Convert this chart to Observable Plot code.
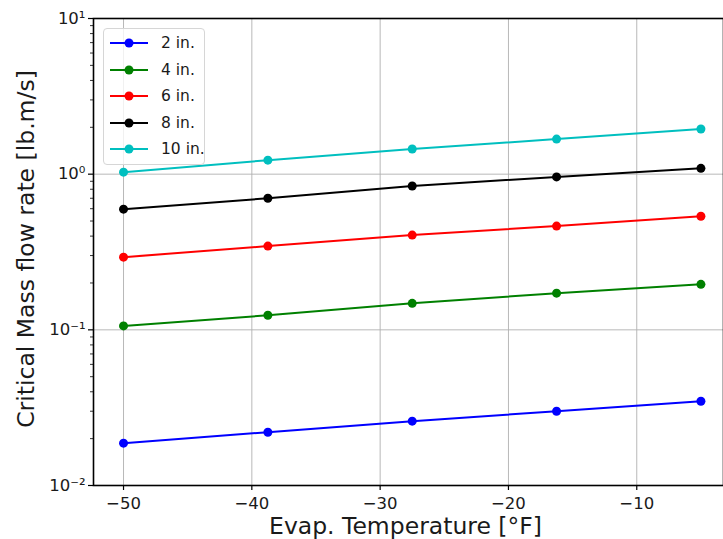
<!DOCTYPE html>
<html><head>
<meta charset="utf-8">
<script src="https://cdn.jsdelivr.net/npm/d3@7"></script>
<script src="https://cdn.jsdelivr.net/npm/@observablehq/plot@0.6"></script>
<style>
body{margin:0;background:#fff;font-family:"DejaVu Sans",sans-serif;}
#wrap{position:relative;width:723px;height:539px;overflow:hidden;}
#legend{position:absolute;left:103px;top:28px;width:102px;height:137px;border:1px solid #d6d6d6;border-radius:4px;background:rgba(255,255,255,0.8);box-sizing:border-box;}
.row{position:absolute;left:0;height:20px;display:flex;align-items:center;font-size:15.5px;color:#1a1a1a;white-space:nowrap;}
.row svg{margin-left:6px;margin-right:13px;flex:none;}
</style>
</head><body><div id="wrap"></div>
<script>
const temps = [-50, -38.75, -27.5, -16.25, -5];
const sizes = ["2 in.", "4 in.", "6 in.", "8 in.", "10 in."];
const colors = ["#0000ff", "#008000", "#ff0000", "#000000", "#00bfbf"];
const flow2in  = [0.0187, 0.0220, 0.0259, 0.0300, 0.0348];
const flow4in  = [0.106, 0.124, 0.148, 0.172, 0.196];
const flow6in  = [0.293, 0.345, 0.406, 0.464, 0.537];
const flow8in  = [0.596, 0.700, 0.840, 0.960, 1.09];
const flow10in = [1.03, 1.23, 1.45, 1.68, 1.95];
const series = [flow2in, flow4in, flow6in, flow8in, flow10in];
const xTicks = [-50, -40, -30, -20, -10];
const yTicks = [0.01, 0.1, 1, 10];
const yTickLabels = ["10\u207B\u00B2", "10\u207B\u00B9", "10\u2070", "10\u00B9"];
const yMinor = [];
for (const d of [0.01, 0.1, 1]) for (let m = 2; m <= 9; m++) yMinor.push(m * d);

const data = [];
series.forEach((vals, i) => vals.forEach((v, j) => data.push({size: sizes[i], t: temps[j], q: v})));

const chart = Plot.plot({
  width: 723, height: 539,
  marginLeft: 93, marginTop: 18, marginBottom: 54, marginRight: 0,
  style: {fontFamily: "DejaVu Sans", background: "white", color: "#1a1a1a"},
  x: {domain: [-52.34, -3.24]},
  y: {type: "log", domain: [0.01, 10]},
  color: {domain: sizes, range: colors},
  marks: [
    Plot.gridX(xTicks, {stroke: "#b0b0b0", strokeOpacity: 1, strokeWidth: 0.9}),
    Plot.gridY(yTicks, {stroke: "#b0b0b0", strokeOpacity: 1, strokeWidth: 0.9}),
    Plot.line(data, {x: "t", y: "q", z: "size", stroke: "size", strokeWidth: 2}),
    Plot.dot(data, {x: "t", y: "q", fill: "size", r: 4.5}),
    Plot.frame({stroke: "black", strokeWidth: 1.6}),
    Plot.axisX(xTicks, {tickSize: 5, tickPadding: 7, fontSize: 16.5, tickFormat: d => "\u2212" + Math.abs(d), label: null, strokeWidth: 1.2, stroke: "black"}),
    Plot.axisY(yTicks, {tickSize: 5, tickPadding: 3, fontSize: 16.5, tickFormat: d => yTickLabels[yTicks.indexOf(d)], label: null, strokeWidth: 1.2, stroke: "black"}),
    Plot.axisY(yMinor, {tickSize: 3, tickFormat: () => "", label: null, strokeWidth: 0.8, stroke: "black"}),
    Plot.text(["Critical Mass flow rate [lb.m/s]"], {frameAnchor: "left", dx: -67, dy: -3, rotate: -90, textAnchor: "middle", lineAnchor: "middle", fontSize: 23.5, fill: "#1a1a1a"}),
    Plot.text(["Evap. Temperature [\u00B0F]"], {frameAnchor: "bottom", dx: -3, dy: 41, textAnchor: "middle", lineAnchor: "middle", fontSize: 23.5, fill: "#1a1a1a"})
  ]
});
const wrap = document.getElementById("wrap");
wrap.appendChild(chart);

const legend = document.createElement("div");
legend.id = "legend";
sizes.forEach((s, i) => {
  const row = document.createElement("div");
  row.className = "row";
  row.style.top = (4 + i * 26.6) + "px";
  row.innerHTML = `<svg width="38" height="12"><line x1="0" y1="6" x2="38" y2="6" stroke="${colors[i]}" stroke-width="2"/><circle cx="19" cy="6" r="4.5" fill="${colors[i]}"/></svg><span>${s}</span>`;
  legend.appendChild(row);
});
wrap.appendChild(legend);
</script>
</body></html>
